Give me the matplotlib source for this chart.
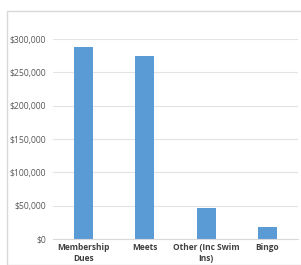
import matplotlib.pyplot as plt
from matplotlib.patches import Rectangle
from matplotlib.ticker import FuncFormatter

categories = ["Membership\nDues", "Meets", "Other (Inc Swim\nIns)", "Bingo"]
income = [288000, 274000, 46500, 18000]
yticks = [0, 50000, 100000, 150000, 200000, 250000, 300000]

W, H = 301, 265
fig = plt.figure(figsize=(W / 100, H / 100), dpi=100)
plt.rcParams['font.family'] = ['Open Sans', 'DejaVu Sans']

# chart frame
fig.patches.append(Rectangle((7 / W, 0), 1.2, 1 - 11 / H, transform=fig.transFigure,
                             fill=False, edgecolor='#d9d9d9', lw=1))

ax = fig.add_axes([53 / W, 1 - 239 / H, 245 / W, (239 - 39) / H * 1.0])
ax.bar(range(len(categories)), income, width=0.31, color='#5b9bd5')
ax.set_xlim(-0.5, 3.5)
ax.set_ylim(0, 300000)
ax.set_yticks(yticks)
ax.yaxis.set_major_formatter(FuncFormatter(lambda v, p: "${:,.0f}".format(v)))
ax.set_xticks(range(len(categories)))
ax.set_xticklabels(categories, fontsize=6, fontweight='bold', color='#404040', linespacing=1.3)
ax.tick_params(axis='y', labelsize=6.2, colors='#595959', length=0, pad=5)
ax.tick_params(axis='x', length=0, pad=3)
ax.grid(axis='y', color='#e3e3e3', lw=0.8)
ax.set_axisbelow(True)
for s in ['top', 'right', 'left']:
    ax.spines[s].set_visible(False)
ax.spines['bottom'].set_color('#d9d9d9')

fig.savefig("out.png", dpi=100)
